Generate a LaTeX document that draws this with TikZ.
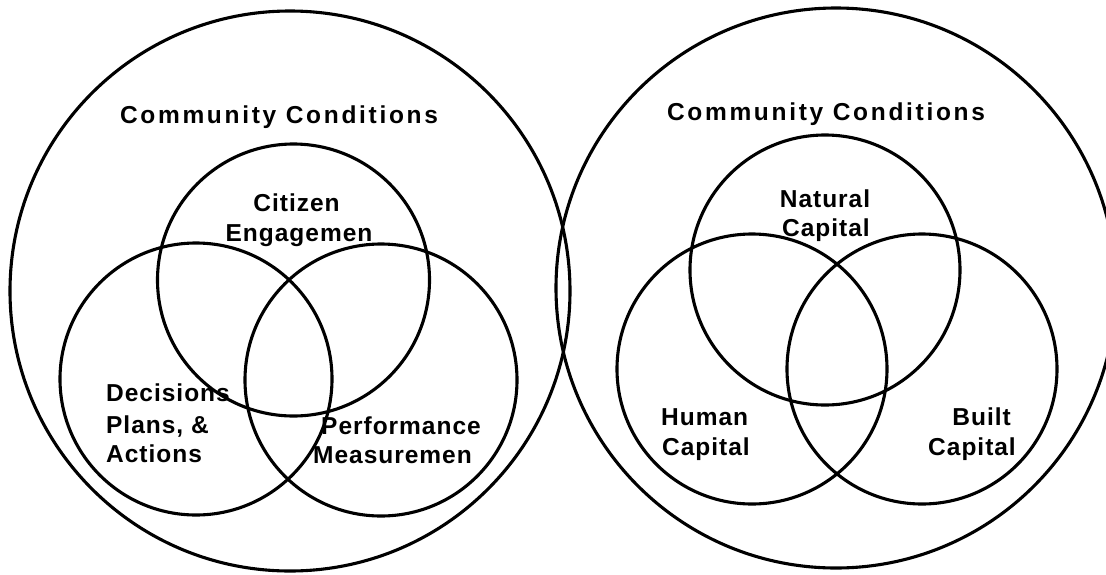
\documentclass[tikz,border=0pt]{standalone}
\usepackage{fontspec}
\setmainfont{Liberation Sans}
\newfontfamily\lblfont{Liberation Sans}[LetterSpace=4]
\newfontfamily\ccfont{Liberation Sans}[LetterSpace=11]
\begin{document}
\begin{tikzpicture}[x=1pt,y=-1pt,
  ring/.style={circle,draw=black,line width=3.1pt,inner sep=0pt,outer sep=0pt,minimum size=#1},
  lbl/.style={inner sep=0pt,font=\lblfont\bfseries\fontsize{24.5}{30}\selectfont},
  cclbl/.style={inner sep=0pt,font=\ccfont\bfseries\fontsize{24.5}{30}\selectfont}]
\useasboundingbox[fill=white] (0,0) rectangle (1106,574);
% left diagram
\node[ring=560pt] (L) at (290,291) {};
\node[ring=272pt] (LA) at (293.5,280) {};
\node[ring=272pt] (LB) at (196,379) {};
\node[ring=272pt] (LC) at (381,380) {};
% right diagram
\node[ring=560pt] (R) at (836,288) {};
\node[ring=270pt] (RA) at (825,270) {};
\node[ring=270pt] (RB) at (752,369) {};
\node[ring=270pt] (RC) at (922,369) {};
% texts left
\node[cclbl,anchor=base] (tl) at (279,123) {Community Conditions};
\node[lbl,anchor=base] (ce1) at (296.5,211.5) {Citizen};
\node[lbl,anchor=base] (ce2) at (299,241) {Engagemen};
\node[lbl,anchor=base west] (dp1) at (106,401.5) {Decisions};
\node[lbl,anchor=base west] (dp2) at (106,433) {Plans, \&};
\node[lbl,anchor=base west] (dp3) at (106,462.5) {Actions};
\node[lbl,anchor=base west] (pm1) at (321,434) {Performance};
\node[lbl,anchor=base west] (pm2) at (313,463) {Measuremen};
% texts right
\node[cclbl,anchor=base] (tr) at (826,120) {Community Conditions};
\node[lbl,anchor=base] (nc1) at (825,207) {Natural};
\node[lbl,anchor=base] (nc2) at (826,236.5) {Capital};
\node[lbl,anchor=base west] (hc1) at (661,425) {Human};
\node[lbl,anchor=base west] (hc2) at (662,455.5) {Capital};
\node[lbl,anchor=base east] (bc1) at (1011,425) {Built};
\node[lbl,anchor=base east] (bc2) at (1016,455.5) {Capital};
\end{tikzpicture}
\end{document}
